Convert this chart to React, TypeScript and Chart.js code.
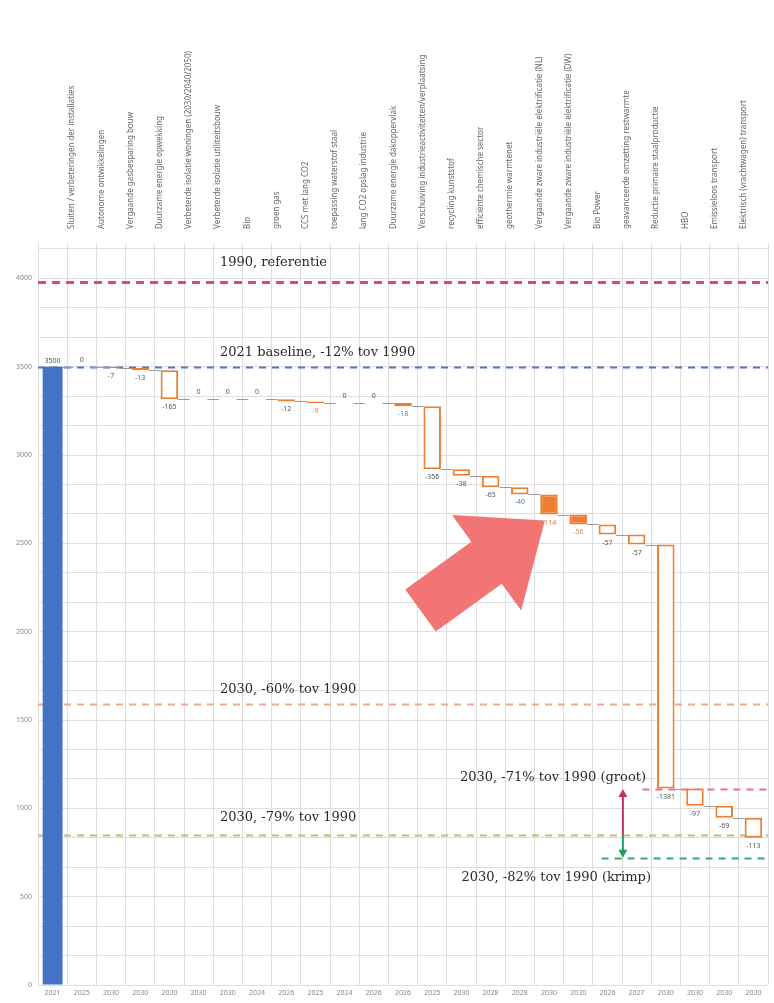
import React, { useEffect, useRef } from 'react';
import { Chart, registerables } from 'chart.js';
Chart.register(...registerables);

// ---------- data ----------
const startName = '';
const measureNames = [
  'Sluiten / verbeteringen der installaties',
  'Autonome ontwikkelingen',
  'Vergaande gasbesparing bouw',
  'Duurzame energie opwekking',
  'Verbeterde isolatie woningen (2030/2040/2050)',
  'Verbeterde isolatie utiliteitsbouw',
  'Bio',
  'groen gas',
  'CCS met lang CO2',
  'toepassing waterstof staal',
  'lang CO2 opslag industrie',
  'Duurzame energie dakoppervlak',
  'Verschuiving industrieactiviteiten/verplaatsing',
  'recycling kunststof',
  'efficiënte chemische sector',
  'geothermie warmtenet',
  'Vergaande zware industriële elektrificatie (NL)',
  'Vergaande zware industriële elektrificatie (DW)',
  'Bio Power',
  'geavanceerde omzetting restwarmte',
  'Reductie primaire staalproductie',
  'HBO',
  'Emissieloos transport',
  'Elektrisch (vrachtwagen) transport',
];
const yearLabels = [
  '2021', '2025', '2030', '2030', '2030', '2030', '2030', '2024', '2026', '2025',
  '2024', '2026', '2026', '2025', '2030', '2028', '2028', '2030', '2030', '2026',
  '2027', '2030', '2030', '2030', '2030',
];
const startValue = 3500;
const deltas = [
  0, -7, -13, -165, 0, 0, 0, -12, -9, 0, 0, -18, -356, -38, -65, -40, -114, -56, -57, -57,
  -1381, -97, -69, -113,
];
const refValues = [3980, 3500, 1590, 1110, 850, 720];
const refTexts = [
  '1990, referentie',
  '2021 baseline, -12% tov 1990',
  '2030, -60% tov 1990',
  '2030, -71% tov 1990 (groot)',
  '2030, -79% tov 1990',
  '2030, -82% tov 1990 (krimp)',
];
const yTickStep = 500;
const yMax = 4200;

// ---------- styles ----------
const refStyles = [
  { color: '#E0485E', width: 3, dash: [8, 6], from: -0.5, textX: 5.73, textDy: -19 },
  { color: '#4A78C8', width: 2, dash: [7, 6], from: -0.5, textX: 5.73, textDy: -14 },
  { color: '#F0A88C', width: 2, dash: [7, 6], from: -0.5, textX: 5.73, textDy: -14 },
  { color: '#E4708C', width: 2, dash: [7, 6], from: 20.2, textX: 13.95, textDy: -11 },
  { color: '#B8C078', width: 2, dash: [7, 6], from: -0.5, textX: 5.73, textDy: -17 },
  { color: '#38A878', width: 2, dash: [7, 6], from: 18.8, textX: 14.0, textDy: 20 },
];
const filledSteps = [8, 16, 17];
const blueLabelSteps = [11, 15];
const orange = '#ED7D31';
const vArrowX = 19.53;
const bigArrow = { tail: [12.6, 2120], tip: [16.86, 2629], shaft: 52, head: 118, headLen: 72, color: '#F27474' };

// ---------- derived ----------
const topLabels = [startName, ...measureNames];
const runs: number[] = [];
const stepBars: ([number, number] | null)[] = [null];
{
  let run = startValue;
  runs.push(run);
  for (const d of deltas) {
    stepBars.push([run + d, run]);
    run += d;
    runs.push(run);
  }
}
const startBars: ([number, number] | null)[] = yearLabels.map((_, i) => (i === 0 ? [0, startValue] : null));

const overlay = {
  id: 'overlay',
  beforeDatasetsDraw(chart: any) {
    const { ctx, chartArea, scales } = chart;
    const x = scales.x, y = scales.y;
    ctx.save();
    refValues.forEach((v, i) => {
      const s = refStyles[i];
      const py = Math.round(y.getPixelForValue(v)) + 0.5;
      const x0 = s.from <= -0.5 ? chartArea.left : x.getPixelForValue(s.from);
      ctx.strokeStyle = s.color;
      ctx.lineWidth = s.width;
      ctx.setLineDash(s.dash);
      ctx.beginPath();
      ctx.moveTo(x0, py);
      ctx.lineTo(chartArea.right, py);
      ctx.stroke();
    });
    ctx.setLineDash([]);
    // connectors
    const m0 = chart.getDatasetMeta(0), m1 = chart.getDatasetMeta(1);
    ctx.strokeStyle = '#9a9a9a';
    ctx.lineWidth = 1;
    for (let i = 0; i < runs.length - 1; i++) {
      const a = i === 0 ? m0.data[0] : m1.data[i];
      const b = m1.data[i + 1];
      const py = Math.round(y.getPixelForValue(runs[i])) + 0.5;
      ctx.beginPath();
      ctx.moveTo(a.x + a.width / 2, py);
      ctx.lineTo(b.x - b.width / 2, py);
      ctx.stroke();
    }
    ctx.restore();
  },
  afterDatasetsDraw(chart: any) {
    const { ctx, scales } = chart;
    const x = scales.x, y = scales.y;
    ctx.save();
    // step labels
    ctx.font = '7px "Noto Sans"';
    ctx.textAlign = 'center';
    ctx.textBaseline = 'middle';
    ctx.fillStyle = '#555';
    ctx.fillText(String(startValue), x.getPixelForValue(0), y.getPixelForValue(startValue) - 6);
    deltas.forEach((d, k) => {
      const px = x.getPixelForValue(k + 1);
      ctx.fillStyle = filledSteps.includes(k) ? orange : blueLabelSteps.includes(k) ? '#4A7FC0' : '#555';
      if (d === 0) ctx.fillText('0', px, y.getPixelForValue(runs[k]) - 7);
      else ctx.fillText(String(d), px, y.getPixelForValue(runs[k + 1]) + 8);
    });
    // big arrow
    const tx = x.getPixelForValue(bigArrow.tail[0]), ty = y.getPixelForValue(bigArrow.tail[1]);
    const hx = x.getPixelForValue(bigArrow.tip[0]), hy = y.getPixelForValue(bigArrow.tip[1]);
    const len = Math.hypot(hx - tx, hy - ty);
    const ux = (hx - tx) / len, uy = (hy - ty) / len;
    const nx = -uy, ny = ux;
    const bx = hx - ux * bigArrow.headLen, by = hy - uy * bigArrow.headLen;
    const sw = bigArrow.shaft / 2, hw = bigArrow.head / 2;
    ctx.fillStyle = bigArrow.color;
    ctx.beginPath();
    ctx.moveTo(tx + nx * sw, ty + ny * sw);
    ctx.lineTo(bx + nx * sw, by + ny * sw);
    ctx.lineTo(bx + nx * hw, by + ny * hw);
    ctx.lineTo(hx, hy);
    ctx.lineTo(bx - nx * hw, by - ny * hw);
    ctx.lineTo(bx - nx * sw, by - ny * sw);
    ctx.lineTo(tx - nx * sw, ty - ny * sw);
    ctx.closePath();
    ctx.fill();
    // vertical arrows
    const ax = x.getPixelForValue(vArrowX);
    const yMid = y.getPixelForValue(refValues[4]);
    const drawV = (y1: number, color: string) => {
      const dir = y1 < yMid ? -1 : 1;
      ctx.strokeStyle = color;
      ctx.fillStyle = color;
      ctx.lineWidth = 2;
      ctx.beginPath();
      ctx.moveTo(ax, yMid);
      ctx.lineTo(ax, y1 - dir * 7);
      ctx.stroke();
      ctx.beginPath();
      ctx.moveTo(ax, y1);
      ctx.lineTo(ax - 4.5, y1 - dir * 8);
      ctx.lineTo(ax + 4.5, y1 - dir * 8);
      ctx.closePath();
      ctx.fill();
    };
    drawV(y.getPixelForValue(refValues[3]), '#C8305C');
    drawV(y.getPixelForValue(refValues[5]), '#1E9E5E');
    // reference texts
    ctx.font = '13px "DejaVu Serif"';
    ctx.textAlign = 'left';
    ctx.textBaseline = 'middle';
    ctx.fillStyle = '#2a2a2a';
    refTexts.forEach((t, i) => {
      const s = refStyles[i];
      ctx.fillText(t, x.getPixelForValue(s.textX), y.getPixelForValue(refValues[i]) + s.textDy);
    });
    ctx.restore();
  },
};

export default function App() {
  const ref = useRef<HTMLCanvasElement>(null);
  useEffect(() => {
    document.body.style.margin = '0';
    const chart = new Chart(ref.current!, {
      type: 'bar',
      data: {
        labels: yearLabels,
        datasets: [
          {
            data: startBars as any,
            backgroundColor: '#4472C4',
            borderWidth: 0,
            barPercentage: 0.68,
            categoryPercentage: 1,
            grouped: false,
          } as any,
          {
            data: stepBars as any,
            backgroundColor: (c: any) => (filledSteps.includes(c.dataIndex - 1) ? orange : '#ffffff'),
            borderColor: orange,
            borderWidth: (c: any) => (deltas[c.dataIndex - 1] === 0 ? 0 : 2),
            borderSkipped: false,
            barPercentage: 0.6,
            categoryPercentage: 1,
            grouped: false,
          } as any,
        ],
      },
      options: {
        responsive: false,
        animation: false,
        devicePixelRatio: 1,
        layout: { padding: { left: 0, right: 6, top: 0, bottom: 0 } },
        plugins: { legend: { display: false }, tooltip: { enabled: false } },
        scales: {
          x: {
            type: 'category',
            offset: true,
            grid: { offset: true, color: '#dedede', drawTicks: false },
            border: { display: false },
            ticks: { font: { size: 7, family: 'Noto Sans' }, color: '#888', maxRotation: 0, autoSkip: false, padding: 4 },
            afterFit: (s: any) => { s.height = 18; },
          },
          xTop: {
            type: 'category',
            axis: 'x',
            position: 'top',
            labels: topLabels,
            offset: true,
            grid: { display: false },
            border: { display: false },
            ticks: { font: { size: 8, family: 'Noto Sans' }, color: '#666', minRotation: 90, maxRotation: 90, autoSkip: false, padding: 6 },
            afterFit: (s: any) => { s.height = 243; },
          } as any,
          y: {
            min: 0,
            max: yMax,
            afterBuildTicks: (s: any) => {
              const t = [];
              for (let k = 0; (k * yTickStep) / 3 <= yMax + 1e-6; k++) t.push({ value: (k * yTickStep) / 3 });
              s.ticks = t;
            },
            grid: { color: '#dedede', drawTicks: false },
            border: { display: false },
            ticks: {
              font: { size: 7, family: 'Noto Sans' },
              color: '#888',
              padding: 6,
              callback: (v: any) => {
                const r = v / yTickStep;
                return Math.abs(r - Math.round(r)) < 1e-6 ? String(Math.round(v)) : '';
              },
            },
            afterFit: (s: any) => { s.width = 38; },
          },
        },
      },
      plugins: [overlay],
    });
    return () => chart.destroy();
  }, []);
  return <canvas ref={ref} width={774} height={1003} style={{ display: 'block' }} />;
}
